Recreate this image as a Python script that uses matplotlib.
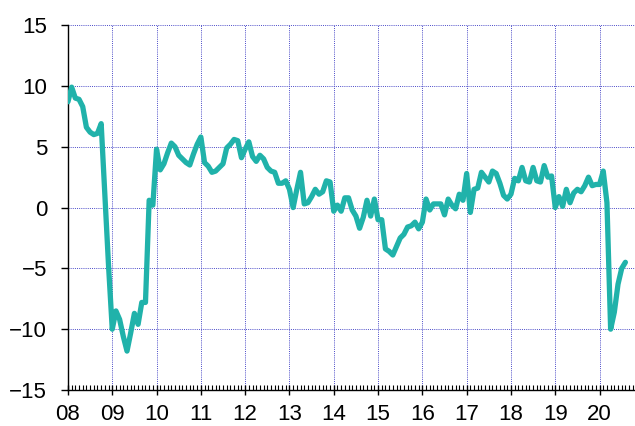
import numpy as np
import matplotlib
matplotlib.use("Agg")
import matplotlib.pyplot as plt
from matplotlib.ticker import MultipleLocator, FixedLocator

# monthly values, Jan 2008 - Aug 2020
v2008 = [8.7, 9.9, 9.0, 8.9, 8.3, 6.6, 6.2, 6.0, 6.1, 6.9, 1.0, -4.8]
v2009 = [-10.0, -8.5, -9.2, -10.6, -11.8, -10.3, -8.7, -9.6, -7.8, -7.8, 0.6, 0.2]
v2010 = [4.8, 3.1, 3.6, 4.5, 5.3, 5.0, 4.3, 4.0, 3.7, 3.5, 4.4, 5.2]
v2011 = [5.8, 3.7, 3.4, 2.9, 3.0, 3.3, 3.6, 4.9, 5.2, 5.6, 5.5, 4.1]
v2012 = [4.8, 5.4, 4.2, 3.8, 4.3, 4.0, 3.3, 3.0, 2.9, 2.0, 2.0, 2.2]
v2013 = [1.5, 0.0, 1.5, 2.9, 0.3, 0.4, 0.9, 1.5, 1.1, 1.3, 2.2, 2.1]
v2014 = [-0.3, 0.2, -0.3, 0.8, 0.8, -0.2, -0.7, -1.7, -0.8, 0.6, -0.7, 0.7]
v2015 = [-1.0, -1.0, -3.4, -3.6, -3.9, -3.2, -2.5, -2.2, -1.6, -1.5, -1.2, -1.75]
v2016 = [-1.2, 0.7, -0.2, 0.3, 0.3, 0.3, -0.6, 0.7, 0.2, -0.1, 1.1, 0.6]
v2017 = [2.8, -0.4, 1.5, 1.6, 2.9, 2.5, 2.1, 3.0, 2.8, 2.0, 1.0, 0.7]
v2018 = [1.1, 2.4, 2.2, 3.3, 2.2, 2.1, 3.3, 2.2, 2.1, 3.45, 2.5, 2.6]
v2019 = [0.0, 0.9, 0.1, 1.5, 0.4, 1.2, 1.5, 1.3, 1.8, 2.5, 1.8, 1.9]
v2020 = [1.9, 3.0, 0.4, -10.0, -8.6, -6.3, -5.0, -4.5]

years = list(range(2008, 2021))
year_labels = ["08", "09", "10", "11", "12", "13", "14", "15", "16", "17", "18", "19", "20"]

values = np.array(v2008 + v2009 + v2010 + v2011 + v2012 + v2013 + v2014
                  + v2015 + v2016 + v2017 + v2018 + v2019 + v2020)
x = 2008 + np.arange(len(values)) / 12.0

plt.rcParams['font.family'] = ['Liberation Sans', 'DejaVu Sans']

fig = plt.figure(figsize=(6.35, 4.26), dpi=100)
ax = fig.add_axes([0.107, 0.0845, 0.893, 0.8565])

ax.plot(x, values, color='#20B2AA', lw=3.8, solid_joinstyle='round',
        solid_capstyle='round', zorder=3)

ax.set_xlim(2008, 2020.8)
ax.set_ylim(-15, 15)
ax.yaxis.set_major_locator(MultipleLocator(5))
ax.xaxis.set_major_locator(FixedLocator(years))
ax.set_xticklabels(year_labels)
ax.xaxis.set_minor_locator(MultipleLocator(1 / 12))

ax.grid(True, which='major', color='#4a4ac8', linestyle=(0, (1, 1.2)), lw=0.7)
for s in ['top', 'right']:
    ax.spines[s].set_visible(False)
ax.spines['left'].set_linewidth(1.0)
ax.spines['bottom'].set_linewidth(1.0)

ax.tick_params(axis='y', which='major', direction='out', length=5, width=1,
               labelsize=16, pad=10)
ax.tick_params(axis='x', which='major', direction='inout', length=7, width=1,
               labelsize=16, pad=6.5)
ax.tick_params(axis='x', which='minor', direction='in', length=3.6, width=0.8)

fig.savefig('out.png', dpi=100)
